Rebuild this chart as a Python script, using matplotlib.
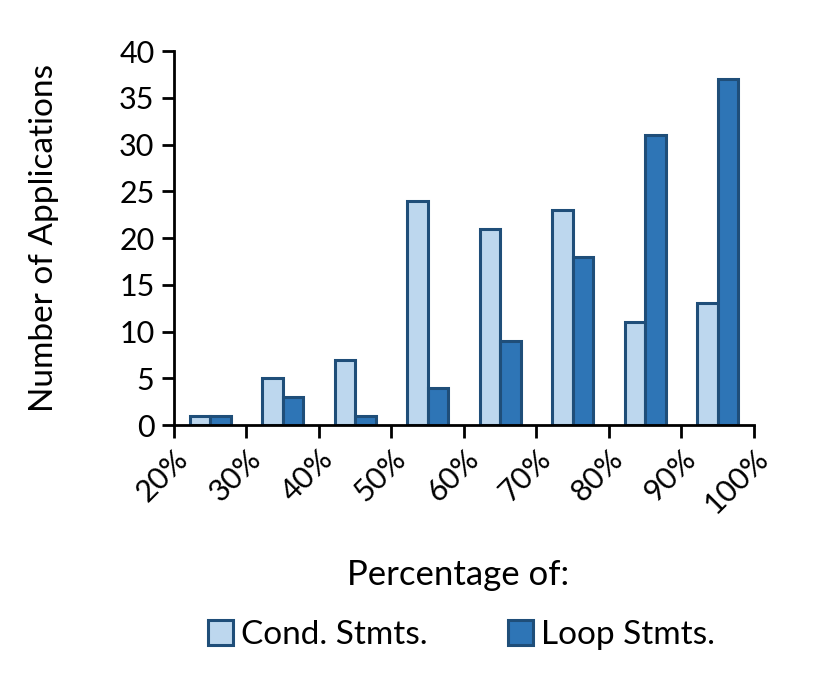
import matplotlib
matplotlib.use("Agg")
import matplotlib.pyplot as plt
import numpy as np

plt.rcParams["font.family"] = ["Lato", "DejaVu Sans"]

tick_labels = ["20%", "30%", "40%", "50%", "60%", "70%", "80%", "90%", "100%"]
cond_stmts = [1, 5, 7, 24, 21, 23, 11, 13]
loop_stmts = [1, 3, 1, 4, 9, 18, 31, 37]

LIGHT = "#BDD7EE"
DARK = "#2E75B6"
EDGE = "#1F4E79"

fig = plt.figure(figsize=(8.3, 6.92), dpi=100)
ax = fig.add_axes([0.2096, 0.3858, 0.6988, 0.5405])

x = np.arange(len(cond_stmts))
w = 0.28
ax.bar(x - w / 2, cond_stmts, w, color=LIGHT, edgecolor=EDGE, linewidth=2.2, label="Cond. Stmts.")
ax.bar(x + w / 2, loop_stmts, w, color=DARK, edgecolor=EDGE, linewidth=2.2, label="Loop Stmts.")

ax.set_xlim(-0.5, len(cond_stmts) - 0.5)
ax.set_ylim(0, 40)
ax.set_yticks(range(0, 41, 5))
ax.set_xticks(np.arange(len(tick_labels)) - 0.5)
ax.set_xticklabels(tick_labels, rotation=45, ha="right", va="top", rotation_mode="anchor")

for side in ("top", "right"):
    ax.spines[side].set_visible(False)
for side in ("left", "bottom"):
    ax.spines[side].set_linewidth(2)
ax.tick_params(axis="both", direction="out", width=2, length=9, labelsize=22, pad=5)

ax.set_ylabel("Number of Applications", fontsize=24)
ax.yaxis.set_label_coords(-0.198, 0.5)
fig.text(0.552, 0.169, "Percentage of:", ha="center", va="center", fontsize=25)
fig.legend(loc="center", bbox_to_anchor=(0.556, 0.082), ncol=2, frameon=False,
           fontsize=24, handlelength=0.75, handleheight=0.75, columnspacing=2.4,
           handletextpad=0.25)

fig.savefig("out.png", dpi=100)
